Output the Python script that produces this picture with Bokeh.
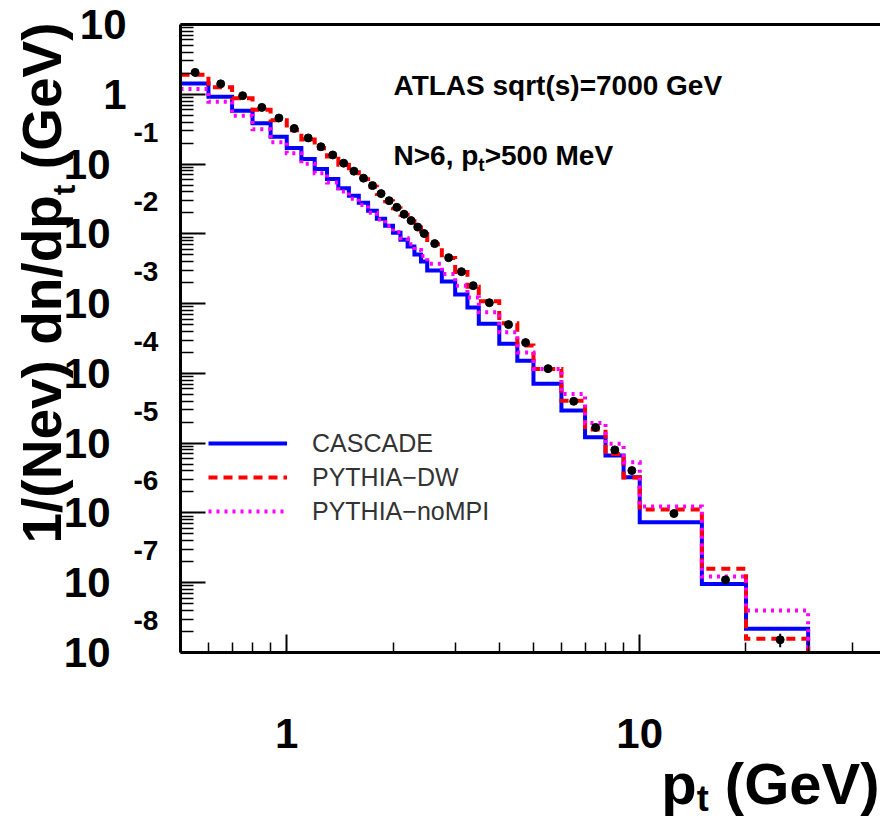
import math
from bokeh.plotting import figure
from bokeh.layouts import row, column
from bokeh.models import (FixedTicker, CustomJSTickFormatter, Label, Legend,
                          LegendItem, LogAxis)
from bokeh.embed import file_html
from bokeh.resources import INLINE

# ---------------- data ----------------
pt_edges = [0.5, 0.6, 0.7, 0.8, 0.9, 1.0, 1.1, 1.2, 1.3, 1.4, 1.5,
            1.6, 1.7, 1.8, 1.9, 2.0, 2.1, 2.2, 2.3, 2.4, 2.5,
            2.75, 3.0, 3.25, 3.5, 4.0, 4.5, 5.0, 6.0, 7.0, 8.0, 9.0, 10.0,
            15.0, 20.0, 30.0]

atlas_data = [2.06, 1.41, 0.955, 0.649, 0.457, 0.324, 0.237, 0.177, 0.135, 0.103,
              0.0791, 0.0628, 0.0491, 0.0377, 0.0299, 0.0240, 0.0191, 0.0155, 0.0125, 0.0101,
              0.00724, 0.00456, 0.00287, 0.00181, 0.00103, 5.0e-4, 2.76e-4, 1.17e-4, 3.98e-5,
              1.68e-5, 8.0e-6, 4.05e-6, 9.8e-7, 1.10e-7, 1.52e-8]
atlas_err_rel = [0.02] * 20 + [0.02, 0.02, 0.03, 0.03, 0.03, 0.03, 0.03, 0.04, 0.04,
                               0.05, 0.05, 0.06, 0.06, 0.12, 0.22]

cascade = [1.43, 0.925, 0.582, 0.383, 0.247, 0.170, 0.118, 0.0851, 0.0612, 0.0449,
           0.0352, 0.0280, 0.0215, 0.0165, 0.0131, 0.0104, 0.00826, 0.00656, 0.00504, 0.00400,
           0.00297, 0.00207, 0.00135, 8.77e-4, 5.16e-4, 2.65e-4, 1.52e-4, 7.08e-5, 2.93e-5,
           1.22e-5, 6.64e-6, 3.24e-6, 7.36e-7, 9.6e-8, 2.19e-8]

pythia_dw = [1.91, 1.26, 0.879, 0.601, 0.426, 0.306, 0.224, 0.169, 0.128, 0.0980,
             0.0766, 0.0608, 0.0474, 0.0371, 0.0294, 0.0233, 0.0188, 0.0152, 0.0123, 0.00991,
             0.00711, 0.00449, 0.00283, 0.00175, 0.00108, 5.22e-4, 2.50e-4, 1.16e-4, 4.07e-5,
             1.57e-5, 6.98e-6, 3.21e-6, 1.12e-6, 1.58e-7, 1.57e-8]

pythia_nompi = [1.19, 0.783, 0.493, 0.316, 0.206, 0.143, 0.101, 0.0741, 0.0542, 0.0403,
                0.0319, 0.0258, 0.0201, 0.0160, 0.0129, 0.0106, 0.00867, 0.00711, 0.00585, 0.00480,
                0.00374, 0.00265, 0.00181, 0.00122, 7.50e-4, 3.88e-4, 2.00e-4, 1.16e-4, 5.08e-5,
                1.94e-5, 9.77e-6, 5.32e-6, 1.24e-6, 1.23e-7, 4.0e-8]

x_major_ticks = [1, 10]
x_minor_ticks = [0.6, 0.7, 0.8, 0.9, 2, 3, 4, 5, 6, 7, 8, 9, 20, 30, 40]
x_tick_labels = {1: "1", 10: "10"}
y_exponents = list(range(-8, 2))          # decades 10^-8 ... 10^1
y_plain_labels = {0: "1", 1: "10"}        # decades drawn without exponent

series_names = ["CASCADE", "PYTHIA\u2212DW", "PYTHIA\u2212noMPI"]

X_RANGE = (0.5, 48.1)
Y_RANGE = (1e-8, 10)

FONT = "Liberation Sans"
MID = 0.347   # distance (in em) from the alphabetic baseline up to the text middle

# ---------------- geometry (pixels) ----------------
TOTAL_W, TOTAL_H = 880, 818
LEFT_W = 176                     # strip holding the y labels / title
FRAME_L, FRAME_T, FRAME_B = 180, 24, 652
MAIN_W = TOTAL_W - LEFT_W
MAIN_H = FRAME_B + 4
BOTTOM_H = TOTAL_H - MAIN_H      # strip holding the x labels / title
PPD = (FRAME_B - FRAME_T) / (math.log10(Y_RANGE[1]) - math.log10(Y_RANGE[0]))
XPPD = (TOTAL_W - FRAME_L) / (math.log10(X_RANGE[1]) - math.log10(X_RANGE[0]))


def ypx_to_val(Y):
    """screen row -> value on the shared log y scale"""
    return 10 ** (math.log10(Y_RANGE[1]) - (Y - FRAME_T) / PPD)


def xpx_to_val(X):
    """screen column -> value on the shared log x scale"""
    return 10 ** (math.log10(X_RANGE[0]) + (X - FRAME_L) / XPPD)


def common(fig, free=False):
    fig.outline_line_color = None
    fig.background_fill_color = "white"
    fig.border_fill_color = "white"
    fig.grid.visible = False
    if free and hasattr(fig, "frame_align"):
        fig.frame_align = False


# ---------------- main figure ----------------
p = figure(width=MAIN_W, height=MAIN_H, x_axis_type="log", y_axis_type="log",
           x_range=X_RANGE, y_range=Y_RANGE, output_backend="svg",
           toolbar_location=None, min_border_left=FRAME_L - LEFT_W, min_border_right=0,
           min_border_top=FRAME_T, min_border_bottom=MAIN_H - FRAME_B)
common(p)

xa = p.xaxis[0]
xa.ticker = FixedTicker(ticks=x_major_ticks, minor_ticks=x_minor_ticks)
ya = p.yaxis[0]
ya.ticker = FixedTicker(ticks=[10.0 ** e for e in y_exponents],
                        minor_ticks=[m * 10.0 ** e for e in y_exponents[:-1] for m in range(2, 10)])

for ax, tin, mtin in ((xa, 18, 10), (ya, 25, 13)):
    ax.formatter = CustomJSTickFormatter(code="return '';")
    ax.axis_line_width = 3
    ax.axis_line_color = "black"
    ax.major_tick_in = tin
    ax.major_tick_out = 0
    ax.minor_tick_in = mtin
    ax.minor_tick_out = 0
    ax.major_tick_line_width = 2
    ax.minor_tick_line_width = 1.5
    ax.major_tick_line_color = "black"
    ax.minor_tick_line_color = "black"
    ax.major_label_standoff = 0
    ax.major_label_text_font_size = "0px"

top = LogAxis(ticker=FixedTicker(ticks=[]),
              formatter=CustomJSTickFormatter(code="return '';"),
              axis_line_width=3, major_tick_in=0, major_tick_out=0,
              minor_tick_in=0, minor_tick_out=0, major_label_standoff=0,
              major_label_text_font_size="0px")
p.add_layout(top, "above")


def hist_path(edges, vals, ymin):
    xs, ys = [], []
    for i, v in enumerate(vals):
        xs += [edges[i], edges[i + 1]]
        ys += [v, v]
    xs.append(edges[-1])
    ys.append(ymin)
    return xs, ys


styles = [dict(line_color="#0000ff", line_width=4),
          dict(line_color="#ff0000", line_width=4, line_dash="9 6"),
          dict(line_color="#ff00ff", line_width=4, line_dash="3 5")]
renderers = []
for vals, st in zip([cascade, pythia_dw, pythia_nompi], styles):
    xs, ys = hist_path(pt_edges, vals, Y_RANGE[0])
    renderers.append(p.line(xs, ys, line_join="miter", line_cap="butt", **st))

centers = [(a + b) / 2 for a, b in zip(pt_edges[:-1], pt_edges[1:])]
lo = [v * (1 - e) for v, e in zip(atlas_data, atlas_err_rel)]
hi = [v * (1 + e) for v, e in zip(atlas_data, atlas_err_rel)]
p.segment(centers, lo, centers, hi, line_color="black", line_width=2)
p.scatter(centers, atlas_data, size=8, color="black")

legend = Legend(items=[LegendItem(label=n, renderers=[r]) for n, r in zip(series_names, renderers)],
                location=(28, 124), glyph_width=79, glyph_height=34, label_height=34,
                spacing=0, padding=0, margin=0, label_standoff=25,
                label_text_font=FONT, label_text_font_size="25px",
                label_text_color="#333333", border_line_alpha=0,
                background_fill_alpha=0)
p.add_layout(legend)


def main_text(text, X, Y, size):
    """X: left edge, Y: baseline (screen px)"""
    ym = Y - MID * size
    p.add_layout(Label(x=X - FRAME_L, y=FRAME_B - ym, x_units="screen", y_units="screen",
                       text=text, text_font=FONT, text_font_size=f"{size}px",
                       text_font_style="bold", text_align="left", text_color="black",
                       text_baseline="middle"))


main_text("ATLAS sqrt(s)=7000 GeV", 393, 95, 28)
main_text("N>6, p", 393, 165, 28)
main_text("t", 393 + 3.029 * 28, 171, 19)
main_text(">500 MeV", 393 + 3.029 * 28 + 0.333 * 19, 165, 28)

# ---------------- left strip: y tick labels and y title ----------------
left = figure(width=LEFT_W, height=TOTAL_H, x_range=(0, LEFT_W), y_axis_type="log",
              y_range=(ypx_to_val(TOTAL_H), ypx_to_val(0)), output_backend="svg",
              toolbar_location=None, x_axis_location=None, y_axis_location=None,
              min_border=0)
common(left, free=True)

for e in y_exponents:
    if e in y_plain_labels:
        left.add_layout(Label(x=126, y=10.0 ** e, text=y_plain_labels[e], text_font=FONT,
                              text_font_size="42px", text_font_style="bold",
                              text_color="black", text_align="right",
                              text_baseline="middle"))
    else:
        left.add_layout(Label(x=110, y=10.0 ** e, text="10", text_font=FONT,
                              text_font_size="42px", text_font_style="bold",
                              text_color="black", text_align="right",
                              text_baseline="middle"))
        left.add_layout(Label(x=133, y=10.0 ** e, y_offset=32, text=str(e), text_font=FONT,
                              text_font_size="28px", text_font_style="bold",
                              text_color="black", text_align="left",
                              text_baseline="middle"))


def left_title(text, X, Y, size):
    """rotated text, X: baseline column, Y: start row (screen px)"""
    left.add_layout(Label(x=X - MID * size, y=ypx_to_val(Y), text=text, text_font=FONT,
                          text_font_size=f"{size}px", text_font_style="bold",
                          text_color="black", text_align="left",
                          text_baseline="middle", angle=math.pi / 2))


FY = 55
y0 = 543
left_title("1/(Nev) dn/dp", 61, y0, FY)
y1 = y0 - 6.334 * FY
left_title("t", 75, y1, 32)
y2 = y1 - 0.333 * 32 - 0.278 * FY
left_title("(GeV)", 61, y2, FY)

# ---------------- bottom strip: x tick labels and x title ----------------
bottom = figure(width=MAIN_W, height=BOTTOM_H, x_axis_type="log",
                x_range=(xpx_to_val(LEFT_W), xpx_to_val(TOTAL_W)), y_range=(0, BOTTOM_H),
                output_backend="svg", toolbar_location=None, x_axis_location=None,
                y_axis_location=None, min_border=0)
common(bottom, free=True)

for tick, txt in x_tick_labels.items():
    bottom.add_layout(Label(x=tick, y=TOTAL_H - 733, text=txt, text_font=FONT,
                            text_font_size="42px", text_font_style="bold",
                            text_color="black", text_align="center",
                            text_baseline="middle"))


def bottom_text(text, X, Y, size, align):
    """X: aligned edge, Y: baseline (screen px)"""
    ym = Y - MID * size
    bottom.add_layout(Label(x=xpx_to_val(X), y=TOTAL_H - ym, text=text, text_font=FONT,
                            text_font_size=f"{size}px", text_font_style="bold",
                            text_color="black", text_align=align,
                            text_baseline="middle"))


F = 58
x_end = 879
bottom_text("(GeV)", x_end, 803, F, "right")
t_end = x_end - 2.667 * F - 0.278 * F
bottom_text("t", t_end, 810, 36, "right")
bottom_text("p", t_end - 0.333 * 36, 803, F, "right")

layout = row(left, column(p, bottom))
open("out.html", "w").write(file_html(layout, INLINE))
